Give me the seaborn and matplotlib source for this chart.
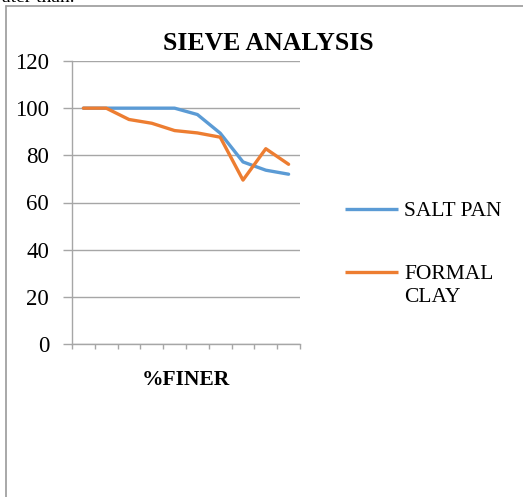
import matplotlib
matplotlib.use("Agg")
import matplotlib.pyplot as plt
from matplotlib.lines import Line2D
import seaborn as sns
import pandas as pd

# Sieve analysis: percent finer per sieve step
sieve_steps = list(range(10))
salt_pan = [100, 100, 100, 100, 100, 97.3, 89.4, 77.2, 73.7, 72.0]
formal_clay = [100, 100, 95.2, 93.6, 90.5, 89.5, 87.7, 69.5, 82.8, 76.2]
series_names = ["SALT PAN", "FORMAL\nCLAY"]
series_colors = ["#5B9BD5", "#ED7D31"]
y_ticks = [0, 20, 40, 60, 80, 100, 120]

df = pd.DataFrame({
    "step": sieve_steps * 2,
    "finer": salt_pan + formal_clay,
    "soil": [series_names[0]] * len(salt_pan) + [series_names[1]] * len(formal_clay),
})

sns.set_style("white")
plt.rcParams["font.family"] = ["Liberation Serif", "DejaVu Serif"]
plt.rcParams["text.color"] = "black"
plt.rcParams["xtick.color"] = "black"
plt.rcParams["ytick.color"] = "black"
plt.rcParams["axes.labelcolor"] = "black"

W, H = 523, 497
fig = plt.figure(figsize=(W / 100, H / 100), dpi=100)

def fx(px):
    return px / W

def fy(py):
    return 1 - py / H

# page frame around the chart (left and top edges are visible)
frame_kw = dict(transform=fig.transFigure, color="#9a9a9a", linewidth=1.2)
fig.add_artist(Line2D([fx(6), fx(6)], [0, fy(6)], **frame_kw))
fig.add_artist(Line2D([fx(6), 1], [fy(6), fy(6)], **frame_kw))
fig.text(fx(2), fy(2), "ater than.", fontsize=14, va="baseline", ha="left")

ax = fig.add_axes([fx(72), fy(344), fx(300) - fx(72), fy(61) - fy(344)])

palette = dict(zip(series_names, series_colors))
sns.lineplot(data=df, x="step", y="finer", hue="soil", palette=palette,
             linewidth=2.4, ax=ax, legend=False)

ax.set_xlim(-0.5, 9.5)
ax.set_ylim(0, 120)
ax.set_yticks(y_ticks)
ax.set_yticklabels([str(v) for v in y_ticks], fontsize=16.5)
ax.set_xticks([i - 0.5 for i in range(11)])
ax.set_xticklabels([])
ax.yaxis.grid(True, color="#a6a6a6", linewidth=1)
ax.set_axisbelow(True)
for side in ["top", "right"]:
    ax.spines[side].set_visible(False)
for side in ["left", "bottom"]:
    ax.spines[side].set_color("#a6a6a6")
    ax.spines[side].set_linewidth(1)
ax.tick_params(axis="y", left=True, direction="out", length=6.5, color="#a6a6a6",
               labelcolor="black", width=1, pad=10)
ax.tick_params(axis="x", bottom=True, direction="out", length=3.6, color="#a6a6a6",
               width=1)
ax.set_xlabel("")
ax.set_ylabel("")
fig.text(fx(186), fy(380), "%FINER", fontsize=15.5, fontweight="bold",
         ha="center", va="center")

fig.text(fx(268), fy(43), "SIEVE ANALYSIS", fontsize=18.5, fontweight="bold",
         ha="center", va="center")

# legend entries to the right of the plot
legend_rows = [209, 272]
for name, color, row in zip(series_names, series_colors, legend_rows):
    fig.add_artist(Line2D([fx(345), fx(398)], [fy(row), fy(row)],
                          transform=fig.transFigure, color=color, linewidth=2.4,
                          solid_capstyle="butt"))
    fig.text(fx(404), fy(row - 7), name, fontsize=15.5, ha="left", va="top",
             linespacing=1.3)

fig.savefig("out.png", dpi=100)
